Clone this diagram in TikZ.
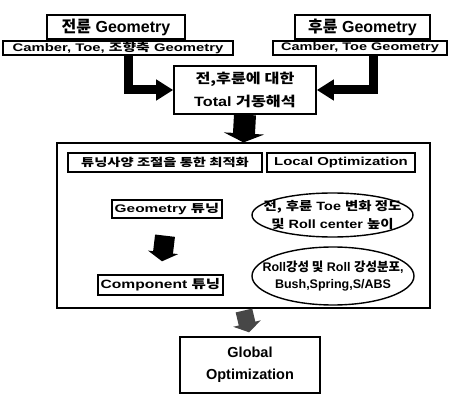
\documentclass[tikz,border=0pt]{standalone}
\usepackage{fontspec}
\setmainfont{Liberation Sans}
\newfontfamily\krfont{Noto Sans CJK KR}
\usetikzlibrary{arrows.meta}
\newcommand\KR[1]{{\krfont\bfseries #1}}
\newcommand\SX[2]{\scalebox{#1}[1]{#2}}
\newcommand\FS[1]{\fontsize{#1}{#1}\selectfont\bfseries}
\begin{document}
\begin{tikzpicture}[x=1pt,y=-1pt,
  box/.style={draw, line width=1.6pt, inner sep=0pt, align=center},
  txt/.style={inner sep=0pt, align=center},
  ell/.style={line width=1.4pt},
  blockarrow/.style={line width=#1, line join=miter},
]
\useasboundingbox (0,0) rectangle (451,396);
% top boxes
\node[box, minimum width=138pt, minimum height=24pt, font=\FS{16}] (A) at (116,27) {\KR{전륜} Geometry};
\node[box, minimum width=230pt, minimum height=14pt, font=\FS{11}] (B) at (118,48) {\SX{1.35}{Camber, Toe, \KR{조향축} Geometry}};
\node[box, minimum width=135pt, minimum height=24pt, font=\FS{16}] (C) at (362.5,27) {\KR{후륜} Geometry};
\node[box, minimum width=174pt, minimum height=14pt, font=\FS{11}] (D) at (360,48) {\SX{1.32}{Camber, Toe Geometry}};
\node[box, minimum width=142pt, minimum height=48pt, font=\FS{13.5}] (E) at (245,90) {\SX{1.2}{\KR{전,후륜에 대한}}\\[7pt]\SX{1.2}{Total \KR{거동해석}}};
% big box
\node[draw, line width=1.1pt, minimum width=373pt, minimum height=165pt, inner sep=0pt] (F) at (243.5,225.5) {};
\node[box, minimum width=194pt, minimum height=19pt, font=\FS{11}] (G) at (165,162.5) {\SX{1.3}{\KR{튜닝사양 조절을 통한 최적화}}};
\node[box, minimum width=148pt, minimum height=19pt, font=\FS{11.5}] (H) at (341,162.5) {\SX{1.3}{Local Optimization}};
\node[box, minimum width=110pt, minimum height=18pt, font=\FS{11}] (I) at (167,209) {\SX{1.4}{Geometry \KR{튜닝}}};
\node[txt, font=\FS{12}] (J) at (332.5,215) {\SX{1.2}{\KR{전,} \KR{후륜} Toe \KR{변화 정도}}\\[4pt]\SX{1.2}{\KR{및} Roll center \KR{높이}}};
\draw[ell] (J.center) ellipse [x radius=80.5pt, y radius=22pt];
\node[box, minimum width=125pt, minimum height=20pt, font=\FS{12}] (K) at (160.5,285) {\SX{1.3}{Component \KR{튜닝}}};
\node[txt, font=\FS{12.5}] (L) at (333,276) {Roll\KR{강성 및} Roll \KR{강성분포},\\[5pt]Bush,Spring,S/ABS};
\draw[ell] (L.center) ellipse [x radius=81pt, y radius=29pt];
% bottom box
\node[box, minimum width=140pt, minimum height=56pt, font=\FS{14.5}] (M) at (250,365) {\raisebox{-2pt}{Global}\\[7pt]\raisebox{-2pt}{Optimization}};
% arrows
\coordinate (lx) at (128,0);
\coordinate (rx) at (373,0);
\draw[blockarrow=9pt, -{Triangle[width=20pt,length=17pt]}] (B.south -| lx) |- (E.west);
\draw[blockarrow=9pt, -{Triangle[width=20pt,length=17pt]}] (D.south -| rx) |- (E.east);
\draw[blockarrow=22pt, -{Triangle[width=40pt,length=9pt]}] (E.south) -- (F.north);
\draw[blockarrow=20pt, -{Triangle[width=30pt,length=9pt]}, shorten <=17pt, shorten >=13pt] (I.south) -- (K.north);
\draw[blockarrow=17pt, draw=black!72, -{Triangle[width=28pt,length=9pt]}, shorten <=2pt, shorten >=4pt] (F.south) -- (M.north);
\end{tikzpicture}
\end{document}
